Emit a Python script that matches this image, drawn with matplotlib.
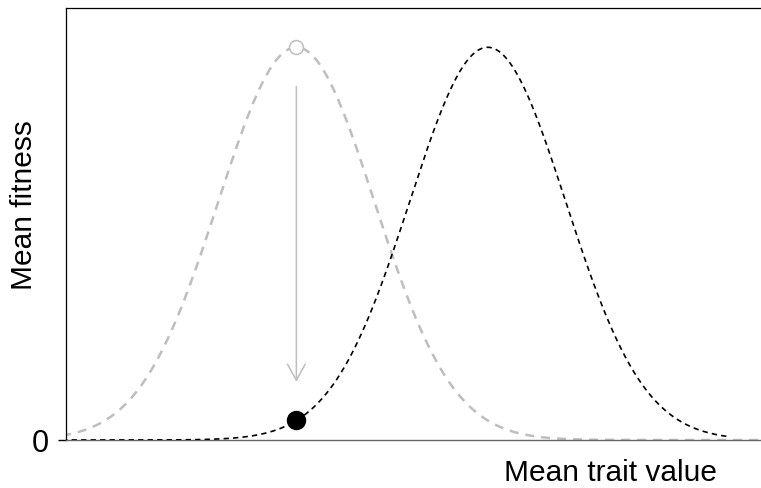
import numpy as np
import matplotlib.pyplot as plt

plt.rcParams['font.family'] = ['Liberation Sans', 'DejaVu Sans']

# fitness landscape before (gray) and after (black) the optimum shift
old_range = [-3.0, 6.0]
new_range = [-3.0, 5.55]
old_optimum = 0.0
new_optimum = 2.45
landscape_width = 1.0
peak_fitness = 1.0
arrow_start = 0.90
arrow_end = 0.148
population_mean = 0.0


def fitness(z, optimum):
    return peak_fitness * np.exp(-(z - optimum) ** 2 / (2 * landscape_width ** 2))


z_old = np.linspace(old_range[0], old_range[1], 600)
z_new = np.linspace(new_range[0], new_range[1], 600)

fig = plt.figure(figsize=(7.61, 4.88), dpi=100)
ax = fig.add_axes([66 / 761, 48 / 488, 1 - 66 / 761, 432 / 488])

ax.plot(z_old, fitness(z_old, old_optimum), color='#bebebe', lw=1.8,
        linestyle=(0, (3.6, 2.8)), zorder=2)
ax.plot(z_new, fitness(z_new, new_optimum), color='black', lw=1.2,
        linestyle=(0, (3.2, 2.5)), zorder=3)

# population before and after the shift
ax.plot(population_mean, fitness(population_mean, old_optimum), 'o',
        ms=10, mfc='white', mec='#bebebe', mew=1.1, zorder=4)
ax.plot(population_mean, fitness(population_mean, new_optimum), 'o',
        ms=13, color='black', zorder=5)

ax.annotate('', xy=(population_mean, arrow_end), xytext=(population_mean, arrow_start),
            arrowprops=dict(arrowstyle='->,head_length=0.58,head_width=0.32',
                            mutation_scale=20, color='#bebebe', lw=1.1,
                            shrinkA=0, shrinkB=0))

ax.set_xlim(-2.95, 5.95)
ax.set_ylim(0, 1.1)
ax.set_xticks([])
ax.set_yticks([0])
ax.set_yticklabels(['0'])
ax.tick_params(axis='y', length=6, width=1, pad=6, labelsize=22)
ax.spines['right'].set_visible(False)
for side in ['left', 'top']:
    ax.spines[side].set_linewidth(0.9)
ax.spines['bottom'].set_color('#666666')
ax.spines['bottom'].set_linewidth(1.0)

fig.text(24 / 761, 1 - 205 / 488, 'Mean fitness', rotation=90,
         ha='center', va='center', fontsize=21.5)
fig.text(611 / 761, 1 - 473 / 488, 'Mean trait value',
         ha='center', va='center', fontsize=21.5)

fig.savefig('out.png', dpi=100)
